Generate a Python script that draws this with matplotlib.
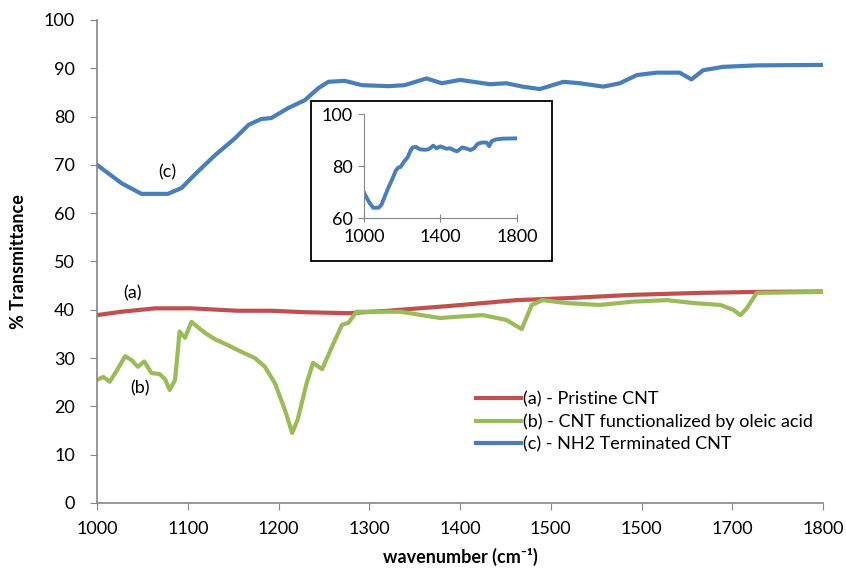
import matplotlib
matplotlib.use('Agg')
from matplotlib import pyplot as plt
from matplotlib.patches import Rectangle

plt.rcParams['font.family'] = ['Lato', 'DejaVu Sans']

# (a) Pristine CNT
wn_a = [1000, 1027, 1064, 1104, 1155, 1192, 1229, 1277, 1321, 1334, 1389,
        1462, 1517, 1591, 1664, 1727, 1800]
tr_a = [38.9, 39.6, 40.3, 40.3, 39.8, 39.8, 39.5, 39.3, 39.8, 40.0, 40.8,
        42.0, 42.4, 43.1, 43.5, 43.7, 43.8]

# (b) CNT functionalized by oleic acid
wn_b = [1000, 1007, 1014, 1022, 1031, 1038, 1045, 1052, 1060, 1069, 1075, 1080,
        1086, 1091, 1097, 1104, 1119, 1130, 1144, 1159, 1174, 1185, 1196, 1207,
        1215, 1221, 1231, 1238, 1248, 1259, 1270, 1277, 1286, 1334, 1378, 1400,
        1425, 1451, 1468, 1479, 1491, 1517, 1554, 1591, 1628, 1657, 1687, 1701,
        1709, 1716, 1727, 1800]
tr_b = [25.5, 26.1, 25.1, 27.5, 30.4, 29.6, 28.2, 29.3, 26.9, 26.7, 25.6, 23.4,
        25.5, 35.5, 34.2, 37.5, 35.2, 33.9, 32.7, 31.3, 30.0, 28.2, 24.8, 19.3,
        14.5, 17.2, 24.8, 29.0, 27.7, 32.4, 36.9, 37.3, 39.6, 39.6, 38.3, 38.6,
        38.9, 37.9, 36.0, 41.0, 42.0, 41.4, 41.0, 41.7, 42.0, 41.4, 41.0, 40.0,
        38.9, 40.3, 43.5, 43.7]

# (c) NH2 Terminated CNT
wn_c = [1000, 1027, 1049, 1078, 1093, 1111, 1130, 1152, 1167, 1181, 1192, 1211,
        1229, 1244, 1255, 1273, 1292, 1321, 1339, 1363, 1380, 1400, 1433, 1451,
        1469, 1488, 1514, 1532, 1558, 1576, 1595, 1617, 1642, 1655, 1668, 1690,
        1727, 1800]
tr_c = [70.0, 66.2, 64.0, 64.0, 65.2, 68.6, 72.0, 75.5, 78.3, 79.5, 79.7, 81.8,
        83.4, 85.9, 87.2, 87.4, 86.5, 86.3, 86.5, 87.9, 86.9, 87.6, 86.7, 86.9,
        86.2, 85.7, 87.2, 86.9, 86.2, 86.9, 88.6, 89.1, 89.1, 87.7, 89.6, 90.3,
        90.6, 90.7]

x_ticks = [1000, 1100, 1200, 1300, 1400, 1500, 1600, 1700, 1800]
x_tick_labels = ['1000', '1100', '1200', '1300', '1400', '1500', '1500', '1700', '1800']
y_ticks = [0, 10, 20, 30, 40, 50, 60, 70, 80, 90, 100]

series_labels = ['(a) - Pristine CNT',
                 '(b) - CNT functionalized by oleic acid',
                 '(c) - NH2 Terminated CNT']
red = '#C0504D'
green = '#9BBB59'
blue = '#4A7EBB'
axis_grey = '#868686'

fig = plt.figure(figsize=(8.46, 5.71), dpi=100)
ax = fig.add_axes([0.1147, 0.1191, 0.8581, 0.8459])

ax.plot(wn_a, tr_a, color=red, lw=3, label=series_labels[0])
ax.plot(wn_b, tr_b, color=green, lw=3, label=series_labels[1])
ax.plot(wn_c, tr_c, color=blue, lw=3, label=series_labels[2])

ax.set_xlim(1000, 1800)
ax.set_ylim(0, 100)
ax.set_xticks(x_ticks)
ax.set_xticklabels(x_tick_labels)
ax.set_yticks(y_ticks)
for s in ['top', 'right']:
    ax.spines[s].set_visible(False)
for s in ['left', 'bottom']:
    ax.spines[s].set_color(axis_grey)
    ax.spines[s].set_linewidth(1.2)
ax.tick_params(axis='x', direction='out', length=5, color=axis_grey,
               labelsize=13, pad=8)
ax.tick_params(axis='y', direction='out', length=5, color=axis_grey,
               labelsize=13, pad=11)

ax.set_xlabel('wavenumber (cm\u207b\u00b9)', fontsize=13, fontweight='bold', labelpad=8)
ax.set_ylabel('% Transmittance', fontsize=13, fontweight='bold', labelpad=12)

ax.text(1077, 68.5, '(c)', fontsize=13, ha='center', va='center')
ax.text(1039, 43.5, '(a)', fontsize=13, ha='center', va='center')
ax.text(1047, 23.8, '(b)', fontsize=13, ha='center', va='center')

ax.legend(loc='upper left', bbox_to_anchor=(0.50, 0.265), frameon=False,
          fontsize=13, handlelength=2.5, handletextpad=0.1, labelspacing=0.35)

# inset
fig.patches.append(Rectangle((0.3676, 0.543), 0.2849, 0.28, transform=fig.transFigure,
                             fill=False, edgecolor='black', lw=1.3, zorder=5))
fig.patches.append(Rectangle((0.3676, 0.543), 0.2849, 0.28, transform=fig.transFigure,
                             facecolor='white', edgecolor='none', zorder=0.5))
ins = fig.add_axes([0.430, 0.618, 0.181, 0.182])
ins.set_zorder(6)
ins.patch.set_alpha(0)
ins.plot(wn_c, tr_c, color=blue, lw=2.8)
ins.set_xlim(1000, 1800)
ins.set_ylim(60, 100)
ins.set_xticks([1000, 1400, 1800])
ins.set_yticks([60, 80, 100])
for s in ['top', 'right']:
    ins.spines[s].set_visible(False)
for s in ['left', 'bottom']:
    ins.spines[s].set_color(axis_grey)
ins.tick_params(axis='x', direction='inout', length=6, color=axis_grey, labelsize=13, pad=5)
ins.tick_params(axis='y', direction='out', length=4, color=axis_grey, labelsize=13, pad=4)

fig.savefig('out.png', dpi=100)
